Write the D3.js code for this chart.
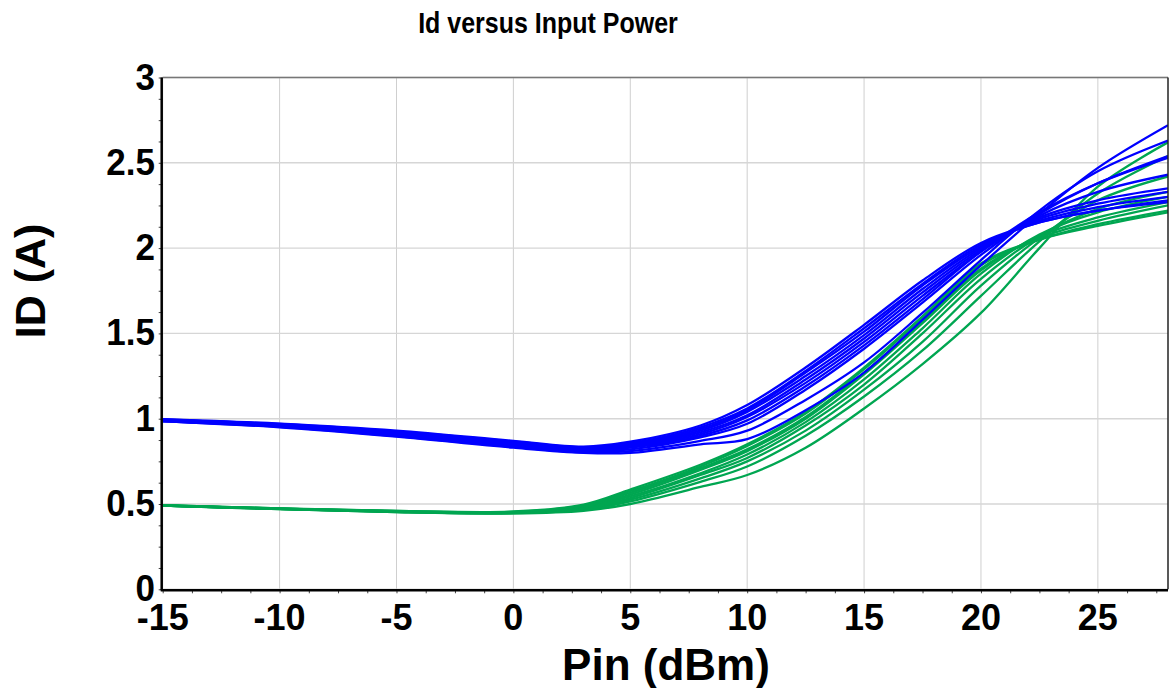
<!DOCTYPE html>
<html>
<head>
<meta charset="utf-8">
<script src="https://cdn.jsdelivr.net/npm/d3@7"></script>
<style>
  body { margin: 0; background: #fff; }
  text { font-family: "Liberation Sans", Arial, sans-serif; font-weight: bold; fill: #000; }
</style>
</head>
<body>
<div id="chart"></div>
<script>
// sample points along the input-power sweep (dBm)
const pin = [-15, -10, -5, 0, 3, 5, 8, 10, 12.5, 15, 17.5, 20, 22.5, 25, 28];

// drain current traces (A), one array per trace
const blueTraces = [
  [0.985, 0.95, 0.895, 0.83, 0.80, 0.80, 0.85, 0.88, 1.05, 1.27, 1.58, 1.90, 2.20, 2.47, 2.72],
  [0.985, 0.952, 0.898, 0.835, 0.803, 0.81, 0.87, 0.93, 1.11, 1.33, 1.62, 1.93, 2.22, 2.45, 2.63],
  [0.988, 0.955, 0.902, 0.84, 0.808, 0.82, 0.89, 0.97, 1.17, 1.41, 1.68, 1.96, 2.20, 2.38, 2.54],
  [0.99, 0.957, 0.906, 0.845, 0.812, 0.83, 0.90, 0.99, 1.19, 1.43, 1.70, 1.98, 2.21, 2.38, 2.53],
  [0.99, 0.96, 0.91, 0.85, 0.816, 0.835, 0.91, 1.01, 1.21, 1.45, 1.72, 1.98, 2.19, 2.33, 2.43],
  [0.992, 0.962, 0.914, 0.855, 0.82, 0.84, 0.92, 1.02, 1.23, 1.47, 1.74, 1.99, 2.18, 2.28, 2.35],
  [0.993, 0.965, 0.918, 0.86, 0.824, 0.845, 0.93, 1.04, 1.25, 1.49, 1.76, 2.00, 2.17, 2.26, 2.33],
  [0.995, 0.967, 0.922, 0.863, 0.828, 0.85, 0.94, 1.05, 1.27, 1.51, 1.78, 2.01, 2.16, 2.24, 2.30],
  [0.996, 0.969, 0.926, 0.867, 0.832, 0.857, 0.95, 1.06, 1.28, 1.53, 1.79, 2.02, 2.15, 2.22, 2.28],
  [0.998, 0.971, 0.93, 0.87, 0.836, 0.865, 0.96, 1.08, 1.30, 1.55, 1.81, 2.03, 2.15, 2.22, 2.27]
];

const greenTraces = [
  [0.49, 0.47, 0.452, 0.445, 0.46, 0.50, 0.60, 0.67, 0.83, 1.06, 1.32, 1.62, 2.00, 2.36, 2.62],
  [0.49, 0.47, 0.453, 0.446, 0.465, 0.515, 0.63, 0.72, 0.90, 1.13, 1.40, 1.72, 2.04, 2.32, 2.54],
  [0.49, 0.471, 0.454, 0.447, 0.47, 0.525, 0.65, 0.75, 0.93, 1.17, 1.45, 1.78, 2.06, 2.28, 2.42],
  [0.491, 0.472, 0.455, 0.448, 0.475, 0.535, 0.67, 0.77, 0.96, 1.20, 1.50, 1.82, 2.07, 2.23, 2.33],
  [0.491, 0.472, 0.456, 0.449, 0.479, 0.545, 0.68, 0.79, 0.98, 1.23, 1.53, 1.85, 2.08, 2.21, 2.30],
  [0.492, 0.473, 0.457, 0.451, 0.483, 0.555, 0.70, 0.81, 1.00, 1.26, 1.56, 1.87, 2.07, 2.18, 2.27],
  [0.492, 0.473, 0.458, 0.452, 0.487, 0.565, 0.71, 0.82, 1.01, 1.27, 1.57, 1.88, 2.06, 2.16, 2.25],
  [0.493, 0.474, 0.459, 0.454, 0.492, 0.575, 0.72, 0.84, 1.03, 1.29, 1.59, 1.90, 2.05, 2.14, 2.22],
  [0.493, 0.474, 0.46, 0.456, 0.497, 0.585, 0.73, 0.85, 1.04, 1.30, 1.60, 1.91, 2.05, 2.13, 2.21]
];

const xTicks = [-15, -10, -5, 0, 5, 10, 15, 20, 25];
const yTicks = [0, 0.5, 1, 1.5, 2, 2.5, 3];

const W = 1170, H = 688;
const plot = { left: 162.7, right: 1168, top: 77.5, bottom: 589.3 };

const svg = d3.select("#chart").append("svg")
  .attr("width", W)
  .attr("height", H);

const x = d3.scaleLinear().domain([-15, 28]).range([plot.left, plot.right]);
const y = d3.scaleLinear().domain([0, 3]).range([plot.bottom, plot.top]);

// grid
svg.append("g")
  .selectAll("line.vgrid")
  .data(xTicks)
  .enter().append("line")
  .attr("x1", d => x(d)).attr("x2", d => x(d))
  .attr("y1", plot.top).attr("y2", plot.bottom)
  .attr("stroke", "#cfcfcf").attr("stroke-width", 1);

svg.append("g")
  .selectAll("line.hgrid")
  .data(yTicks)
  .enter().append("line")
  .attr("x1", plot.left).attr("x2", plot.right)
  .attr("y1", d => y(d)).attr("y2", d => y(d))
  .attr("stroke", "#d6d6d6").attr("stroke-width", 1.4);

// minor + major ticks via d3 axes
const xAxis = d3.axisBottom(x)
  .tickValues(d3.range(-15, 28.01, 1.25))
  .tickSize(4).tickFormat("");
svg.append("g")
  .attr("transform", `translate(0,${plot.bottom})`)
  .call(xAxis)
  .call(g => g.select(".domain").remove())
  .call(g => g.selectAll("line").attr("stroke", "#444"));

const yAxis = d3.axisLeft(y)
  .tickValues(d3.range(0, 3.001, 0.125))
  .tickSize(4).tickFormat("");
svg.append("g")
  .attr("transform", `translate(${plot.left},0)`)
  .call(yAxis)
  .call(g => g.select(".domain").remove())
  .call(g => g.selectAll("line").attr("stroke", "#444"));

// traces
svg.append("clipPath").attr("id", "clip")
  .append("rect")
  .attr("x", plot.left).attr("y", plot.top)
  .attr("width", plot.right - plot.left).attr("height", plot.bottom - plot.top);

const line = d3.line()
  .x((d, i) => x(pin[i]))
  .y(d => y(d))
  .curve(d3.curveCatmullRom.alpha(0.5));

const traces = svg.append("g").attr("clip-path", "url(#clip)");

traces.selectAll("path.green")
  .data(greenTraces)
  .enter().append("path")
  .attr("class", "green")
  .attr("fill", "none")
  .attr("stroke", "#00a651")
  .attr("stroke-width", 2.3)
  .attr("d", line);

traces.selectAll("path.blue")
  .data(blueTraces)
  .enter().append("path")
  .attr("class", "blue")
  .attr("fill", "none")
  .attr("stroke", "#0000ff")
  .attr("stroke-width", 2.3)
  .attr("d", line);

// frame
svg.append("line")
  .attr("x1", plot.left).attr("x2", plot.right)
  .attr("y1", plot.top).attr("y2", plot.top)
  .attr("stroke", "#777").attr("stroke-width", 1.5);
svg.append("line")
  .attr("x1", plot.right).attr("x2", plot.right)
  .attr("y1", plot.top).attr("y2", plot.bottom)
  .attr("stroke", "#222").attr("stroke-width", 1.5);
svg.append("line")
  .attr("x1", plot.left - 1).attr("x2", plot.left - 1)
  .attr("y1", plot.top).attr("y2", plot.bottom + 1)
  .attr("stroke", "#000").attr("stroke-width", 2.5);
svg.append("line")
  .attr("x1", plot.left - 2).attr("x2", plot.right)
  .attr("y1", plot.bottom + 1).attr("y2", plot.bottom + 1)
  .attr("stroke", "#000").attr("stroke-width", 2.5);

// tick labels
svg.append("g")
  .selectAll("text")
  .data(xTicks)
  .enter().append("text")
  .attr("text-anchor", "middle")
  .attr("font-size", 36)
  .attr("x", d => x(d))
  .attr("y", 630)
  .text(d => d);

svg.append("g")
  .selectAll("text")
  .data(yTicks)
  .enter().append("text")
  .attr("text-anchor", "end")
  .attr("font-size", 35)
  .attr("transform", d => `translate(155,${y(d) + 12}) scale(1,1.07)`)
  .text(d => d);

// titles
svg.append("text")
  .attr("text-anchor", "middle")
  .attr("font-size", 25)
  .attr("transform", "translate(548,33) scale(1,1.18)")
  .text("Id versus Input Power");

svg.append("text")
  .attr("text-anchor", "middle")
  .attr("font-size", 44)
  .attr("x", 666)
  .attr("y", 680)
  .text("Pin (dBm)");

svg.append("text")
  .attr("text-anchor", "middle")
  .attr("font-size", 43)
  .attr("transform", "translate(45,281) rotate(-90)")
  .text("ID (A)");
</script>
</body>
</html>
